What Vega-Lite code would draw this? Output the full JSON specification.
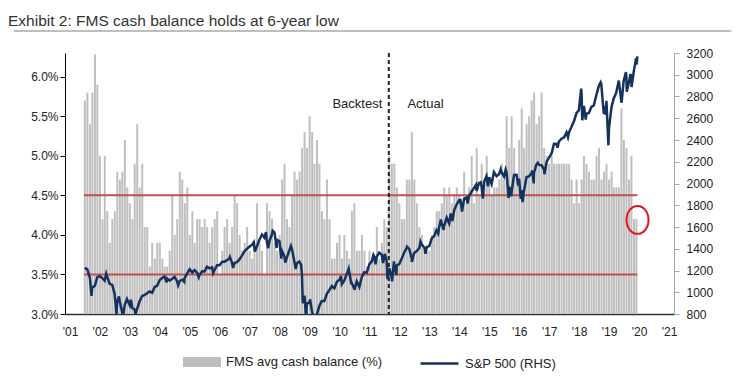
{
  "$schema": "https://vega.github.io/schema/vega-lite/v6.json",
  "width": 609,
  "height": 261,
  "autosize": {"type": "none"},
  "padding": {"left": 65, "top": 53, "right": 71, "bottom": 71},
  "background": "white",
  "title": {
    "text": "Exhibit 2: FMS cash balance holds at 6-year low",
    "anchor": "start",
    "frame": "group",
    "dx": -57,
    "dy": 19,
    "offset": 8,
    "baseline": "alphabetic",
    "font": "Liberation Sans",
    "fontSize": 15.5,
    "fontWeight": "normal",
    "color": "#333333"
  },
  "datasets": {
    "fms": [
      {"d":"2001-07-01","v":5.7},{"d":"2001-08-01","v":5.8},{"d":"2001-09-01","v":5.4},{"d":"2001-10-01","v":5.8},{"d":"2001-11-01","v":6.28},{"d":"2001-12-01","v":5.9},
      {"d":"2002-01-01","v":5.0},{"d":"2002-02-01","v":4.2},{"d":"2002-03-01","v":5.0},{"d":"2002-04-01","v":4.3},{"d":"2002-05-01","v":3.9},{"d":"2002-06-01","v":4.2},{"d":"2002-07-01","v":4.3},{"d":"2002-08-01","v":4.8},{"d":"2002-09-01","v":4.7},{"d":"2002-10-01","v":4.8},{"d":"2002-11-01","v":5.2},{"d":"2002-12-01","v":4.6},
      {"d":"2003-01-01","v":4.4},{"d":"2003-02-01","v":4.2},{"d":"2003-03-01","v":4.9},{"d":"2003-04-01","v":5.4},{"d":"2003-05-01","v":4.6},{"d":"2003-06-01","v":4.9},{"d":"2003-07-01","v":4.1},{"d":"2003-08-01","v":4.1},{"d":"2003-09-01","v":3.6},{"d":"2003-10-01","v":3.9},{"d":"2003-11-01","v":3.7},{"d":"2003-12-01","v":3.9},
      {"d":"2004-01-01","v":3.9},{"d":"2004-02-01","v":3.7},{"d":"2004-03-01","v":3.6},{"d":"2004-04-01","v":3.6},{"d":"2004-05-01","v":3.8},{"d":"2004-06-01","v":4.5},{"d":"2004-07-01","v":4.0},{"d":"2004-08-01","v":4.2},{"d":"2004-09-01","v":4.8},{"d":"2004-10-01","v":4.7},{"d":"2004-11-01","v":4.4},{"d":"2004-12-01","v":4.6},
      {"d":"2005-01-01","v":4.0},{"d":"2005-02-01","v":4.3},{"d":"2005-03-01","v":3.9},{"d":"2005-04-01","v":4.2},{"d":"2005-05-01","v":4.2},{"d":"2005-06-01","v":4.1},{"d":"2005-07-01","v":4.2},{"d":"2005-08-01","v":4.1},{"d":"2005-09-01","v":3.9},{"d":"2005-10-01","v":4.1},{"d":"2005-11-01","v":4.2},{"d":"2005-12-01","v":4.3},
      {"d":"2006-01-01","v":3.5},{"d":"2006-02-01","v":3.8},{"d":"2006-03-01","v":4.1},{"d":"2006-04-01","v":4.2},{"d":"2006-05-01","v":3.9},{"d":"2006-06-01","v":4.1},{"d":"2006-07-01","v":4.5},{"d":"2006-08-01","v":4.4},{"d":"2006-09-01","v":4.0},{"d":"2006-10-01","v":3.8},{"d":"2006-11-01","v":3.9},{"d":"2006-12-01","v":4.1},
      {"d":"2007-01-01","v":3.8},{"d":"2007-02-01","v":3.7},{"d":"2007-03-01","v":3.9},{"d":"2007-04-01","v":4.4},{"d":"2007-05-01","v":3.9},{"d":"2007-06-01","v":3.8},{"d":"2007-07-01","v":3.5},{"d":"2007-08-01","v":4.4},{"d":"2007-09-01","v":4.3},{"d":"2007-10-01","v":4.2},{"d":"2007-11-01","v":3.9},{"d":"2007-12-01","v":3.8},
      {"d":"2008-01-01","v":4.0},{"d":"2008-02-01","v":4.7},{"d":"2008-03-01","v":4.9},{"d":"2008-04-01","v":4.2},{"d":"2008-05-01","v":4.1},{"d":"2008-06-01","v":4.5},{"d":"2008-07-01","v":4.8},{"d":"2008-08-01","v":4.7},{"d":"2008-09-01","v":4.8},{"d":"2008-10-01","v":5.1},{"d":"2008-11-01","v":5.3},{"d":"2008-12-01","v":5.1},
      {"d":"2009-01-01","v":5.5},{"d":"2009-02-01","v":5.3},{"d":"2009-03-01","v":4.9},{"d":"2009-04-01","v":5.2},{"d":"2009-05-01","v":4.9},{"d":"2009-06-01","v":4.3},{"d":"2009-07-01","v":4.2},{"d":"2009-08-01","v":4.7},{"d":"2009-09-01","v":4.2},{"d":"2009-10-01","v":3.7},{"d":"2009-11-01","v":3.7},{"d":"2009-12-01","v":3.9},
      {"d":"2010-01-01","v":4.0},{"d":"2010-02-01","v":3.7},{"d":"2010-03-01","v":4.0},{"d":"2010-04-01","v":3.8},{"d":"2010-05-01","v":3.7},{"d":"2010-06-01","v":4.3},{"d":"2010-07-01","v":4.4},{"d":"2010-08-01","v":3.8},{"d":"2010-09-01","v":3.8},{"d":"2010-10-01","v":4.0},{"d":"2010-11-01","v":3.8},{"d":"2010-12-01","v":3.6},
      {"d":"2011-01-01","v":3.8},{"d":"2011-02-01","v":3.7},{"d":"2011-03-01","v":3.7},{"d":"2011-04-01","v":4.1},{"d":"2011-05-01","v":3.7},{"d":"2011-06-01","v":3.9},{"d":"2011-07-01","v":4.2},{"d":"2011-08-01","v":4.1},{"d":"2011-09-01","v":5.0},{"d":"2011-10-01","v":4.9},{"d":"2011-11-01","v":4.9},{"d":"2011-12-01","v":4.6},
      {"d":"2012-01-01","v":4.4},{"d":"2012-02-01","v":4.2},{"d":"2012-03-01","v":4.2},{"d":"2012-04-01","v":4.7},{"d":"2012-05-01","v":4.7},{"d":"2012-06-01","v":5.3},{"d":"2012-07-01","v":4.7},{"d":"2012-08-01","v":4.4},{"d":"2012-09-01","v":4.1},{"d":"2012-10-01","v":4.0},{"d":"2012-11-01","v":3.8},{"d":"2012-12-01","v":3.8},
      {"d":"2013-01-01","v":3.8},{"d":"2013-02-01","v":4.0},{"d":"2013-03-01","v":4.1},{"d":"2013-04-01","v":4.3},{"d":"2013-05-01","v":4.3},{"d":"2013-06-01","v":4.4},{"d":"2013-07-01","v":4.6},{"d":"2013-08-01","v":4.5},{"d":"2013-09-01","v":4.6},{"d":"2013-10-01","v":4.4},{"d":"2013-11-01","v":4.5},{"d":"2013-12-01","v":4.6},
      {"d":"2014-01-01","v":4.5},{"d":"2014-02-01","v":4.4},{"d":"2014-03-01","v":4.8},{"d":"2014-04-01","v":4.4},{"d":"2014-05-01","v":4.6},{"d":"2014-06-01","v":5.0},{"d":"2014-07-01","v":4.4},{"d":"2014-08-01","v":5.1},{"d":"2014-09-01","v":4.5},{"d":"2014-10-01","v":4.9},{"d":"2014-11-01","v":4.6},{"d":"2014-12-01","v":5.0},
      {"d":"2015-01-01","v":4.7},{"d":"2015-02-01","v":4.5},{"d":"2015-03-01","v":4.6},{"d":"2015-04-01","v":4.6},{"d":"2015-05-01","v":4.7},{"d":"2015-06-01","v":4.9},{"d":"2015-07-01","v":4.7},{"d":"2015-08-01","v":5.5},{"d":"2015-09-01","v":5.1},{"d":"2015-10-01","v":5.5},{"d":"2015-11-01","v":5.1},{"d":"2015-12-01","v":4.7},
      {"d":"2016-01-01","v":5.2},{"d":"2016-02-01","v":5.6},{"d":"2016-03-01","v":5.1},{"d":"2016-04-01","v":5.4},{"d":"2016-05-01","v":5.5},{"d":"2016-06-01","v":5.7},{"d":"2016-07-01","v":5.8},{"d":"2016-08-01","v":5.4},{"d":"2016-09-01","v":5.5},{"d":"2016-10-01","v":5.8},{"d":"2016-11-01","v":5.1},{"d":"2016-12-01","v":5.0},
      {"d":"2017-01-01","v":4.9},{"d":"2017-02-01","v":5.0},{"d":"2017-03-01","v":4.9},{"d":"2017-04-01","v":4.9},{"d":"2017-05-01","v":4.9},{"d":"2017-06-01","v":4.9},{"d":"2017-07-01","v":4.9},{"d":"2017-08-01","v":4.9},{"d":"2017-09-01","v":4.9},{"d":"2017-10-01","v":4.7},{"d":"2017-11-01","v":4.4},{"d":"2017-12-01","v":4.7},
      {"d":"2018-01-01","v":4.4},{"d":"2018-02-01","v":4.7},{"d":"2018-03-01","v":5.0},{"d":"2018-04-01","v":4.9},{"d":"2018-05-01","v":4.8},{"d":"2018-06-01","v":4.7},{"d":"2018-07-01","v":4.7},{"d":"2018-08-01","v":5.0},{"d":"2018-09-01","v":5.1},{"d":"2018-10-01","v":4.7},{"d":"2018-11-01","v":4.8},{"d":"2018-12-01","v":4.9},
      {"d":"2019-01-01","v":4.7},{"d":"2019-02-01","v":4.8},{"d":"2019-03-01","v":4.6},{"d":"2019-04-01","v":4.6},{"d":"2019-05-01","v":4.6},{"d":"2019-06-01","v":5.6},{"d":"2019-07-01","v":5.2},{"d":"2019-08-01","v":5.1},{"d":"2019-09-01","v":4.7},{"d":"2019-10-01","v":5.0},{"d":"2019-11-01","v":4.2},{"d":"2019-12-01","v":4.2}
    ],
    "spx": [
      {"d":"2001-06-29","p":1224},{"d":"2001-07-31","p":1211},{"d":"2001-08-31","p":1134},{"d":"2001-09-21","p":966},{"d":"2001-09-28","p":1041},{"d":"2001-10-31","p":1060},{"d":"2001-11-30","p":1139},{"d":"2001-12-31","p":1148},
      {"d":"2002-01-31","p":1130},{"d":"2002-02-28","p":1107},{"d":"2002-03-19","p":1170},{"d":"2002-03-28","p":1147},{"d":"2002-04-30","p":1077},{"d":"2002-05-31","p":1067},{"d":"2002-06-28","p":990},{"d":"2002-07-23","p":797},{"d":"2002-07-31","p":912},{"d":"2002-08-22","p":962},{"d":"2002-08-30","p":916},{"d":"2002-09-30","p":815},{"d":"2002-10-09","p":777},{"d":"2002-10-31","p":886},{"d":"2002-11-27","p":938},{"d":"2002-12-31","p":880},
      {"d":"2003-01-14","p":932},{"d":"2003-01-31","p":856},{"d":"2003-02-28","p":841},{"d":"2003-03-11","p":800},{"d":"2003-03-31","p":848},{"d":"2003-04-30","p":917},{"d":"2003-05-30","p":964},{"d":"2003-06-30","p":975},{"d":"2003-07-31","p":990},{"d":"2003-08-29","p":1008},{"d":"2003-09-30","p":996},{"d":"2003-10-31","p":1051},{"d":"2003-11-28","p":1058},{"d":"2003-12-31","p":1112},
      {"d":"2004-01-30","p":1131},{"d":"2004-02-27","p":1145},{"d":"2004-03-24","p":1091},{"d":"2004-03-31","p":1126},{"d":"2004-04-30","p":1107},{"d":"2004-05-28","p":1121},{"d":"2004-06-30","p":1141},{"d":"2004-07-30","p":1102},{"d":"2004-08-12","p":1064},{"d":"2004-08-31","p":1104},{"d":"2004-09-30","p":1115},{"d":"2004-10-25","p":1095},{"d":"2004-10-29","p":1130},{"d":"2004-11-30","p":1174},{"d":"2004-12-31","p":1212},
      {"d":"2005-01-31","p":1181},{"d":"2005-02-28","p":1204},{"d":"2005-03-31","p":1181},{"d":"2005-04-20","p":1138},{"d":"2005-04-29","p":1157},{"d":"2005-05-31","p":1192},{"d":"2005-06-30","p":1191},{"d":"2005-07-29","p":1234},{"d":"2005-08-31","p":1220},{"d":"2005-09-30","p":1229},{"d":"2005-10-13","p":1177},{"d":"2005-10-31","p":1207},{"d":"2005-11-30","p":1249},{"d":"2005-12-30","p":1248},
      {"d":"2006-01-31","p":1280},{"d":"2006-02-28","p":1281},{"d":"2006-03-31","p":1295},{"d":"2006-04-28","p":1311},{"d":"2006-05-05","p":1325},{"d":"2006-05-31","p":1270},{"d":"2006-06-13","p":1223},{"d":"2006-06-30","p":1270},{"d":"2006-07-31","p":1277},{"d":"2006-08-31","p":1304},{"d":"2006-09-29","p":1336},{"d":"2006-10-31","p":1378},{"d":"2006-11-30","p":1401},{"d":"2006-12-29","p":1418},
      {"d":"2007-01-31","p":1438},{"d":"2007-02-20","p":1460},{"d":"2007-03-05","p":1374},{"d":"2007-03-30","p":1421},{"d":"2007-04-30","p":1482},{"d":"2007-05-31","p":1531},{"d":"2007-06-29","p":1503},{"d":"2007-07-19","p":1553},{"d":"2007-07-31","p":1455},{"d":"2007-08-15","p":1406},{"d":"2007-08-31","p":1474},{"d":"2007-09-28","p":1527},{"d":"2007-10-09","p":1565},{"d":"2007-10-31","p":1549},{"d":"2007-11-26","p":1407},{"d":"2007-11-30","p":1481},{"d":"2007-12-31","p":1468},
      {"d":"2008-01-22","p":1310},{"d":"2008-01-31","p":1379},{"d":"2008-02-29","p":1331},{"d":"2008-03-10","p":1273},{"d":"2008-03-31","p":1323},{"d":"2008-04-30","p":1386},{"d":"2008-05-19","p":1426},{"d":"2008-05-30","p":1400},{"d":"2008-06-30","p":1280},{"d":"2008-07-15","p":1214},{"d":"2008-07-31","p":1267},{"d":"2008-08-29","p":1283},{"d":"2008-09-19","p":1255},{"d":"2008-09-30","p":1166},{"d":"2008-10-10","p":899},{"d":"2008-10-31","p":969},{"d":"2008-11-20","p":752},{"d":"2008-11-28","p":896},{"d":"2008-12-31","p":903},
      {"d":"2009-01-06","p":935},{"d":"2009-01-30","p":826},{"d":"2009-02-27","p":735},{"d":"2009-03-09","p":677},{"d":"2009-03-31","p":798},{"d":"2009-04-30","p":873},{"d":"2009-05-29","p":919},{"d":"2009-06-30","p":919},{"d":"2009-07-31","p":987},{"d":"2009-08-31","p":1021},{"d":"2009-09-30","p":1057},{"d":"2009-10-30","p":1036},{"d":"2009-11-30","p":1096},{"d":"2009-12-31","p":1115},
      {"d":"2010-01-19","p":1150},{"d":"2010-01-29","p":1074},{"d":"2010-02-26","p":1104},{"d":"2010-03-31","p":1169},{"d":"2010-04-23","p":1217},{"d":"2010-04-30","p":1187},{"d":"2010-05-25","p":1074},{"d":"2010-05-28","p":1089},{"d":"2010-06-30","p":1031},{"d":"2010-07-02","p":1022},{"d":"2010-07-30","p":1102},{"d":"2010-08-31","p":1049},{"d":"2010-09-30","p":1141},{"d":"2010-10-29","p":1183},{"d":"2010-11-30","p":1181},{"d":"2010-12-31","p":1258},
      {"d":"2011-01-31","p":1286},{"d":"2011-02-18","p":1343},{"d":"2011-02-28","p":1327},{"d":"2011-03-16","p":1257},{"d":"2011-03-31","p":1326},{"d":"2011-04-29","p":1364},{"d":"2011-05-31","p":1345},{"d":"2011-06-16","p":1268},{"d":"2011-06-30","p":1321},{"d":"2011-07-07","p":1353},{"d":"2011-07-29","p":1292},{"d":"2011-08-08","p":1119},{"d":"2011-08-31","p":1219},{"d":"2011-09-30","p":1131},{"d":"2011-10-03","p":1099},{"d":"2011-10-27","p":1285},{"d":"2011-10-31","p":1253},{"d":"2011-11-25","p":1159},{"d":"2011-11-30","p":1247},{"d":"2011-12-30","p":1258},
      {"d":"2012-01-31","p":1312},{"d":"2012-02-29","p":1366},{"d":"2012-03-30","p":1408},{"d":"2012-04-02","p":1419},{"d":"2012-04-30","p":1398},{"d":"2012-05-31","p":1310},{"d":"2012-06-01","p":1278},{"d":"2012-06-29","p":1362},{"d":"2012-07-31","p":1379},{"d":"2012-08-31","p":1407},{"d":"2012-09-14","p":1466},{"d":"2012-09-28","p":1441},{"d":"2012-10-31","p":1412},{"d":"2012-11-15","p":1353},{"d":"2012-11-30","p":1416},{"d":"2012-12-31","p":1426},
      {"d":"2013-01-31","p":1498},{"d":"2013-02-28","p":1515},{"d":"2013-03-28","p":1569},{"d":"2013-04-18","p":1541},{"d":"2013-04-30","p":1598},{"d":"2013-05-21","p":1669},{"d":"2013-05-31","p":1631},{"d":"2013-06-24","p":1573},{"d":"2013-06-28","p":1606},{"d":"2013-07-31","p":1686},{"d":"2013-08-30","p":1633},{"d":"2013-09-18","p":1725},{"d":"2013-09-30","p":1682},{"d":"2013-10-08","p":1655},{"d":"2013-10-31","p":1757},{"d":"2013-11-29","p":1806},{"d":"2013-12-31","p":1848},
      {"d":"2014-01-15","p":1848},{"d":"2014-02-03","p":1742},{"d":"2014-02-28","p":1859},{"d":"2014-03-31","p":1872},{"d":"2014-04-11","p":1815},{"d":"2014-04-30","p":1884},{"d":"2014-05-30","p":1924},{"d":"2014-06-30","p":1960},{"d":"2014-07-24","p":1988},{"d":"2014-07-31","p":1931},{"d":"2014-08-29","p":2003},{"d":"2014-09-18","p":2011},{"d":"2014-09-30","p":1972},{"d":"2014-10-15","p":1862},{"d":"2014-10-31","p":2018},{"d":"2014-11-28","p":2068},{"d":"2014-12-16","p":1973},{"d":"2014-12-31","p":2059},
      {"d":"2015-01-30","p":1995},{"d":"2015-02-27","p":2105},{"d":"2015-03-31","p":2068},{"d":"2015-04-30","p":2086},{"d":"2015-05-21","p":2131},{"d":"2015-05-29","p":2107},{"d":"2015-06-30","p":2063},{"d":"2015-07-20","p":2128},{"d":"2015-07-31","p":2104},{"d":"2015-08-25","p":1867},{"d":"2015-08-31","p":1972},{"d":"2015-09-29","p":1884},{"d":"2015-09-30","p":1920},{"d":"2015-10-30","p":2079},{"d":"2015-11-30","p":2080},{"d":"2015-12-14","p":2012},{"d":"2015-12-31","p":2044},
      {"d":"2016-01-20","p":1859},{"d":"2016-01-29","p":1940},{"d":"2016-02-11","p":1829},{"d":"2016-02-29","p":1932},{"d":"2016-03-31","p":2060},{"d":"2016-04-29","p":2065},{"d":"2016-05-31","p":2097},{"d":"2016-06-08","p":2119},{"d":"2016-06-27","p":2001},{"d":"2016-06-30","p":2099},{"d":"2016-07-29","p":2174},{"d":"2016-08-15","p":2190},{"d":"2016-08-31","p":2171},{"d":"2016-09-30","p":2168},{"d":"2016-10-31","p":2126},{"d":"2016-11-04","p":2085},{"d":"2016-11-30","p":2199},{"d":"2016-12-30","p":2239},
      {"d":"2017-01-31","p":2279},{"d":"2017-02-28","p":2364},{"d":"2017-03-31","p":2363},{"d":"2017-04-13","p":2329},{"d":"2017-04-28","p":2384},{"d":"2017-05-31","p":2412},{"d":"2017-06-30","p":2423},{"d":"2017-07-31","p":2470},{"d":"2017-08-18","p":2426},{"d":"2017-08-31","p":2472},{"d":"2017-09-29","p":2519},{"d":"2017-10-31","p":2575},{"d":"2017-11-30","p":2648},{"d":"2017-12-29","p":2674},
      {"d":"2018-01-26","p":2873},{"d":"2018-01-31","p":2824},{"d":"2018-02-08","p":2581},{"d":"2018-02-28","p":2714},{"d":"2018-03-23","p":2588},{"d":"2018-03-29","p":2641},{"d":"2018-04-30","p":2648},{"d":"2018-05-31","p":2705},{"d":"2018-06-29","p":2718},{"d":"2018-07-31","p":2816},{"d":"2018-08-31","p":2902},{"d":"2018-09-20","p":2931},{"d":"2018-09-28","p":2914},{"d":"2018-10-29","p":2641},{"d":"2018-10-31","p":2712},{"d":"2018-11-23","p":2633},{"d":"2018-11-30","p":2760},{"d":"2018-12-24","p":2351},{"d":"2018-12-31","p":2507},
      {"d":"2019-01-31","p":2704},{"d":"2019-02-28","p":2784},{"d":"2019-03-29","p":2834},{"d":"2019-04-30","p":2946},{"d":"2019-05-31","p":2752},{"d":"2019-06-03","p":2744},{"d":"2019-06-28","p":2942},{"d":"2019-07-26","p":3025},{"d":"2019-07-31","p":2980},{"d":"2019-08-05","p":2845},{"d":"2019-08-30","p":2926},{"d":"2019-09-19","p":3006},{"d":"2019-09-30","p":2977},{"d":"2019-10-02","p":2887},{"d":"2019-10-31","p":3038},{"d":"2019-11-27","p":3153},{"d":"2019-11-29","p":3141},{"d":"2019-12-03","p":3093},{"d":"2019-12-12","p":3168}
    ],
    "bands": [{"v": 4.5}, {"v": 3.5}]
  },
  "layer": [
    {
      "layer": [
        {
          "data": {"name": "fms"},
          "mark": {"type": "bar", "size": 2},
          "encoding": {
            "x": {
              "field": "d", "type": "temporal",
              "scale": {"type": "utc", "domain": [{"year": 2001, "month": 1, "date": 1, "utc": true}, {"year": 2021, "month": 1, "date": 1, "utc": true}], "nice": false},
              "axis": {
                "title": null,
                "tickCount": {"interval": "year", "step": 1},
                "labelExpr": "utcFormat(datum.value, \"'%y\")",
                "labelFlush": false,
                "labelOverlap": false,
                "ticks": false,
                "labelPadding": 12,
                "domainColor": "#333333",
                "domainWidth": 1.5,
                "grid": false
              }
            },
            "y": {
              "field": "v", "type": "quantitative",
              "scale": {"domain": [3, 6.3], "nice": false, "zero": false},
              "axis": {
                "title": null,
                "values": [3, 3.5, 4, 4.5, 5, 5.5, 6],
                "labelExpr": "format(datum.value, '.1f') + '%'",
                "domainColor": "#000000",
                "tickColor": "#000000",
                "tickSize": 5,
                "labelPadding": 2,
                "grid": false
              }
            },
            "y2": {"datum": 3},
            "fill": {
              "datum": "FMS avg cash balance (%)",
              "type": "nominal",
              "scale": {"range": ["#bfbfbf"]},
              "legend": {
                "title": null,
                "orient": "bottom",
                "symbolType": "M-1,-0.26H1V0.26H-1Z",
                "symbolSize": 1444,
                "symbolStrokeWidth": 0,
                "labelFontSize": 13,
                "labelOffset": 5,
                "offset": 6
              }
            }
          }
        },
        {
          "data": {"name": "bands"},
          "mark": {"type": "rule", "color": "#c0504d", "strokeWidth": 2},
          "encoding": {
            "y": {"field": "v", "type": "quantitative", "scale": {"domain": [3, 6.3], "nice": false, "zero": false}},
            "x": {"datum": {"year": 2001, "month": 6, "date": 20, "utc": true}},
            "x2": {"datum": {"year": 2019, "month": 12, "date": 12, "utc": true}}
          }
        },
        {
          "data": {"values": [{}]},
          "mark": {"type": "rule", "color": "#222222", "strokeWidth": 2, "strokeDash": [4, 3]},
          "encoding": {
            "x": {"datum": {"year": 2011, "month": 8, "date": 25, "utc": true}}
          }
        },
        {
          "data": {"values": [{}]},
          "mark": {"type": "text", "text": "Backtest", "align": "right", "baseline": "middle", "font": "Liberation Sans", "fontSize": 13, "color": "#222222"},
          "encoding": {
            "x": {"datum": {"year": 2011, "month": 6, "date": 6, "utc": true}},
            "y": {"datum": 5.65}
          }
        },
        {
          "data": {"values": [{}]},
          "mark": {"type": "text", "text": "Actual", "align": "left", "baseline": "middle", "font": "Liberation Sans", "fontSize": 13, "color": "#222222"},
          "encoding": {
            "x": {"datum": {"year": 2012, "month": 4, "date": 8, "utc": true}},
            "y": {"datum": 5.65}
          }
        },
        {
          "data": {"values": [{}]},
          "mark": {"type": "point", "shape": "M0,-1.27A1,1.27 0 1 1 0,1.27A1,1.27 0 1 1 0,-1.27Z", "size": 484, "filled": false, "stroke": "#e3131b", "strokeWidth": 2, "opacity": 1},
          "encoding": {
            "x": {"datum": {"year": 2019, "month": 12, "date": 14, "utc": true}},
            "y": {"datum": 4.19}
          }
        },
        {
          "data": {"values": [{}]},
          "mark": {"type": "rule", "color": "#808080", "strokeWidth": 1.2},
          "encoding": {
            "x": {"datum": {"year": 1999, "month": 2, "date": 15, "utc": true}},
            "x2": {"datum": {"year": 2023, "month": 2, "date": 1, "utc": true}},
            "y": {"datum": 6.578}
          }
        }
      ]
    },
    {
      "data": {"name": "spx"},
      "mark": {"type": "line", "strokeWidth": 2.5, "clip": true},
      "encoding": {
        "x": {"field": "d", "type": "temporal"},
        "y": {
          "field": "p", "type": "quantitative",
          "scale": {"domain": [800, 3200], "nice": false, "zero": false},
          "axis": {
            "orient": "right",
            "title": null,
            "values": [800, 1000, 1200, 1400, 1600, 1800, 2000, 2200, 2400, 2600, 2800, 3000, 3200],
            "format": "d",
            "domainColor": "#a6a6a6",
            "tickColor": "#a6a6a6",
            "tickSize": 5,
            "labelPadding": 7,
            "grid": false
          }
        },
        "stroke": {
          "datum": "S&P 500 (RHS)",
          "type": "nominal",
          "scale": {"range": ["#14325c"]},
          "legend": {
            "title": null,
            "orient": "bottom",
            "symbolType": "stroke",
            "symbolSize": 1444,
            "symbolStrokeWidth": 2.5,
            "labelFontSize": 13,
            "labelOffset": 5,
            "offset": 6
          }
        }
      }
    }
  ],
  "resolve": {"scale": {"y": "independent"}},
  "config": {
    "view": {"stroke": null},
    "font": "Liberation Sans",
    "axis": {"labelFont": "Liberation Sans", "labelFontSize": 12, "labelColor": "#222222"},
    "legend": {
      "labelFont": "Liberation Sans",
      "labelColor": "#222222",
      "layout": {"bottom": {"anchor": "middle", "direction": "horizontal", "margin": 36}}
    }
  }
}
